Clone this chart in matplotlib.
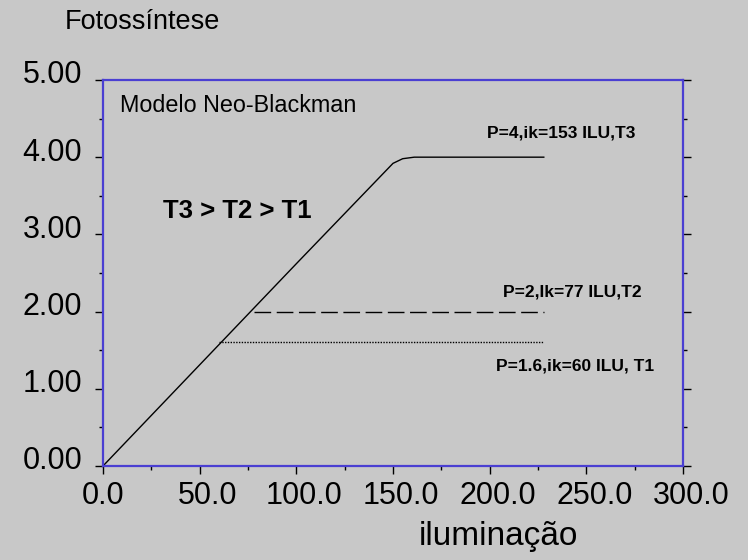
import matplotlib
matplotlib.use("Agg")
import matplotlib.pyplot as plt
import matplotlib.transforms as mtransforms
from matplotlib.ticker import MultipleLocator

# curve data (iluminação vs fotossíntese)
t3_x = [0, 50, 100, 150, 155, 161, 228]
t3_y = [0, 1.31, 2.62, 3.92, 3.98, 4.0, 4.0]
t2_x = [78, 228]
t2_y = [2.0, 2.0]
t1_x = [60, 228]
t1_y = [1.6, 1.6]

x_ticks = [0, 50, 100, 150, 200, 250, 300]
y_ticks = [0, 1, 2, 3, 4, 5]

bg = "#c8c8c8"
blue = "#4a3fd2"
plt.rcParams["font.family"] = ["Liberation Sans", "DejaVu Sans"]

fig = plt.figure(figsize=(7.48, 5.6), dpi=100, facecolor=bg)
ax = fig.add_axes([0.1377, 0.1679, 0.7754, 0.6893], facecolor=bg)

ax.plot(t3_x, t3_y, color="black", lw=1.0)
ax.plot(t2_x, t2_y, color="black", lw=1.0, dashes=(12, 4))
ax.plot(t1_x, t1_y, color="black", lw=1.0, dashes=(1, 1))

ax.set_xlim(0, 300)
ax.set_ylim(0, 5)
ax.set_xticks(x_ticks)
ax.set_yticks(y_ticks)
ax.set_xticklabels([f"{v:.1f}" for v in x_ticks])
ax.set_yticklabels([f"{v:.2f}" for v in y_ticks])
ax.xaxis.set_minor_locator(MultipleLocator(25))
ax.yaxis.set_minor_locator(MultipleLocator(0.5))

for s in ax.spines.values():
    s.set_color(blue)
    s.set_linewidth(1.6)

ax.tick_params(which="both", direction="out", color="black", width=1.0,
               left=True, right=True, bottom=True, top=False, labelsize=22)
ax.tick_params(which="major", length=6)
ax.tick_params(which="minor", length=3)
ax.tick_params(axis="y", pad=9)
ax.tick_params(axis="x", pad=5)

# y tick labels sit a little above their ticks
for lab in ax.get_yticklabels():
    lab.set_transform(lab.get_transform() +
                      mtransforms.ScaledTranslation(0, 8 / 100, fig.dpi_scale_trans))
for lab, v in zip(ax.get_xticklabels(), x_ticks):
    if v > 0:
        lab.set_transform(lab.get_transform() +
                          mtransforms.ScaledTranslation(8 / 100, 0, fig.dpi_scale_trans))

ax.text(0.029, 0.917, "Modelo Neo-Blackman", transform=ax.transAxes,
        fontsize=16.8, va="baseline", ha="left")
ax.text(31, 3.21, "T3 > T2 > T1", fontsize=18.5, fontweight="bold",
        va="baseline", ha="left")

ax.text(237, 4.26, "P=4,ik=153 ILU,T3", fontsize=12.5, fontweight="bold",
        ha="center", va="baseline")
ax.text(243, 2.19, "P=2,Ik=77 ILU,T2", fontsize=12.5, fontweight="bold",
        ha="center", va="baseline")
ax.text(244, 1.24, "P=1.6,ik=60 ILU, T1", fontsize=12.5, fontweight="bold",
        ha="center", va="baseline")

fig.text(65 / 748, 1 - 22 / 560, "Fotossíntese", fontsize=19.5,
         ha="left", va="center")
fig.text(498 / 748, 1 - 545 / 560, "iluminação", fontsize=24,
         ha="center", va="baseline")

fig.savefig("out.png", dpi=100, facecolor=bg)
